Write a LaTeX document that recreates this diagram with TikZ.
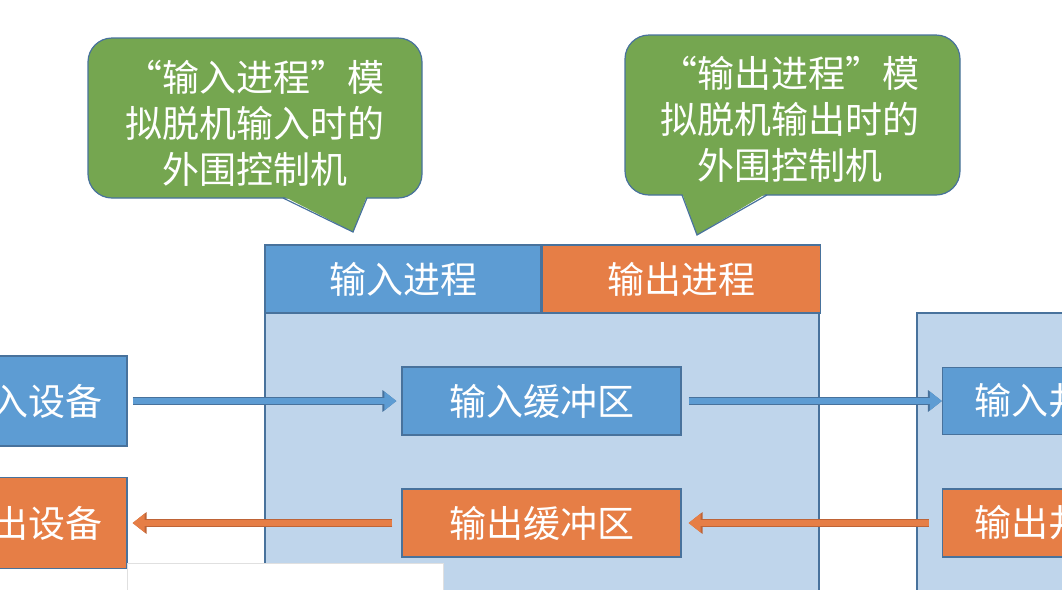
\documentclass[tikz,border=0pt]{standalone}
\usepackage{fontspec}
\newfontfamily\cjk{Noto Sans CJK SC}
\usetikzlibrary{positioning,arrows.meta}

\definecolor{inblue}{RGB}{93,156,211}
\definecolor{outorange}{RGB}{230,126,70}
\definecolor{notegreen}{RGB}{117,166,80}
\definecolor{bodyblue}{RGB}{191,213,235}
\definecolor{edgeblue}{RGB}{72,114,156}
\definecolor{edgeorange}{RGB}{190,100,55}

\tikzset{
  cjkfont/.style={font=\cjk\fontsize{18.5}{23}\selectfont},
  blockbox/.style={draw=edgeblue, line width=0.6pt, text=white, cjkfont, inner sep=0pt},
  inbox/.style={blockbox, fill=inblue},
  outbox/.style={blockbox, fill=outorange},
  notebox/.style={fill=notegreen, draw=edgeblue, line width=0.6pt, rounded corners=12pt},
  notetext/.style={text=white, cjkfont, align=center},
  flowin/.style={draw=inblue, line width=3.4pt, -{Triangle[length=6pt,width=9pt]},
    preaction={draw=edgeblue, line width=4.4pt, -{Triangle[length=7pt,width=10.5pt]}}},
  flowout/.style={draw=outorange, line width=3.4pt, -{Triangle[length=6pt,width=9pt]},
    preaction={draw=edgeorange, line width=4.4pt, -{Triangle[length=7pt,width=10.5pt]}}}
}

\begin{document}
\begin{tikzpicture}[x=0.5pt, y=-0.5pt]
    \useasboundingbox (0,0) rectangle (1062,590);
    % callouts
    \filldraw[notebox] (88,38) rectangle (422,198);
    \fill[notegreen] (283,196) -- (353,232) -- (367,196) -- cycle;
    \draw[edgeblue, line width=0.6pt] (283,198) -- (353,232) -- (367,198);
    \node[notetext] (callin) at (255,123) {“输入进程”模\\拟脱机输入时的\\外围控制机};
    \filldraw[notebox] (625,35) rectangle (960,195);
    \fill[notegreen] (682,193) -- (697,235) -- (767,193) -- cycle;
    \draw[edgeblue, line width=0.6pt] (682,195) -- (697,235) -- (767,195);
    \node[notetext] (callout) at (790,119) {“输出进程”模\\拟脱机输出时的\\外围控制机};
    % host box and well box
    \filldraw[fill=bodyblue, draw=edgeblue, line width=0.6pt] (265,313) rectangle (819,640);
    \filldraw[fill=bodyblue, draw=edgeblue, line width=0.6pt] (917,313) rectangle (1120,640);
    \node[inbox, minimum width=138pt, minimum height=34pt] (procin) at (403,279) {输入进程};
    \node[outbox, minimum width=139pt, minimum height=34pt, right=0pt of procin] (procout) {输出进程};
    % devices, buffers, wells
    \node[inbox, minimum width=98pt, minimum height=45pt] (indev) at (29,401) {输入设备};
    \node[outbox, minimum width=98pt, minimum height=45.5pt] (outdev) at (29,523) {输出设备};
    \node[inbox, minimum width=139.5pt, minimum height=34pt] (inbuf) at (541.5,401) {输入缓冲区};
    \node[outbox, minimum width=139.5pt, minimum height=34pt] (outbuf) at (541.5,523) {输出缓冲区};
    \node[inbox, minimum width=87.5pt, minimum height=33.5pt] (inwell) at (1030,401) {输入井};
    \node[outbox, minimum width=87.5pt, minimum height=34pt] (outwell) at (1030,523) {输出井};
    % flows
    \draw[flowin, shorten <=2.5pt, shorten >=2.5pt] (indev) -- (inbuf);
    \draw[flowin, shorten <=3.5pt] (inbuf) -- (inwell);
    \draw[flowout, shorten <=4.5pt, shorten >=2.5pt] (outbuf) -- (outdev);
    \draw[flowout, shorten <=6.5pt, shorten >=3.5pt] (outwell) -- (outbuf);
    % thumbnail window
    \filldraw[fill=white, draw=black!12] (127,563) rectangle (443,640);
  \end{tikzpicture}
\end{document}
